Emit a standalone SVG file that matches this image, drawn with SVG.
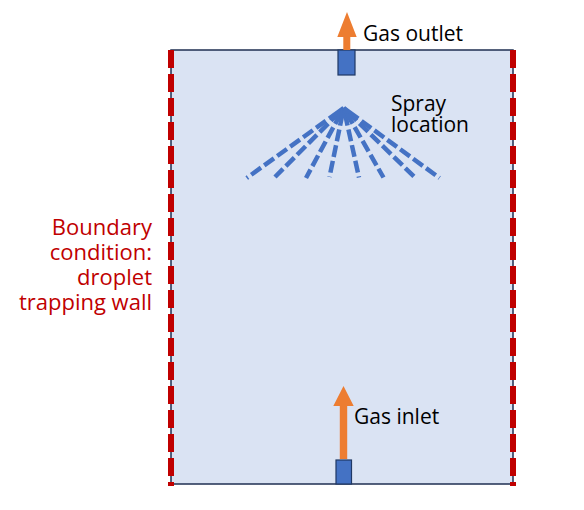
<svg xmlns="http://www.w3.org/2000/svg" width="584" height="510" viewBox="0 0 584 510">
  <style>
    .lbl { font-family: "Open Sans", "Noto Sans", "Liberation Sans", sans-serif; font-size: 21px; fill: #000000; }
    .red { font-family: "Open Sans", "Noto Sans", "Liberation Sans", sans-serif; font-size: 22px; fill: #c00000; text-anchor: end; }
    .wall { stroke: #c00000; stroke-width: 6; stroke-dasharray: 18 6; fill: none; }
    .port { fill: #4472c4; stroke: #1f3864; stroke-width: 1.2; }
    .spray line { stroke: #4472c4; stroke-width: 4.5; stroke-dasharray: 18 4 12 4 12 4 12 4 12 4 12 4 12 4 12 4 12 4 12 4; }
    .arrow { fill: #ed7d31; }
  </style>
  <rect width="584" height="510" fill="#ffffff"/>
  <g id="chamber">
    <rect x="171" y="50" width="342" height="434" fill="#dae3f3" stroke="#1f2f52" stroke-width="1.5"/>
  </g>
  <g id="walls">
    <line class="wall" x1="171" y1="50" x2="171" y2="486"/>
    <line class="wall" x1="513" y1="50" x2="513" y2="486"/>
  </g>
  <g id="outlet">
    <rect class="port" x="338" y="50" width="17" height="25"/>
  </g>
  <g id="inlet">
    <rect class="port" x="336" y="460" width="15.5" height="24"/>
  </g>
  <g id="spray" class="spray">
    <line x1="343.7" y1="108" x2="246.7" y2="178"/>
    <line x1="343.7" y1="108" x2="275" y2="177"/>
    <line x1="343.7" y1="108" x2="306" y2="178"/>
    <line x1="343.7" y1="108" x2="329.5" y2="177"/>
    <line x1="343.7" y1="108" x2="359" y2="177.5"/>
    <line x1="343.7" y1="108" x2="383.5" y2="177.5"/>
    <line x1="343.7" y1="108" x2="414.5" y2="177"/>
    <line x1="343.7" y1="108" x2="439.5" y2="178"/>
  </g>
  <g id="connectors">
    <polygon class="arrow" points="343.3,50 343.3,37 337.3,37 347,12 356.7,37 350.3,37 350.3,50"/>
    <polygon class="arrow" points="339.8,459 339.8,406 333.3,406 343.5,386 353.7,406 347.2,406 347.2,459"/>
  </g>
  <g id="labels">
    <text class="lbl" x="363" y="41">Gas outlet</text>
    <text class="lbl" x="391" y="111">Spray</text>
    <text class="lbl" x="391" y="132">location</text>
    <text class="lbl" x="354" y="424">Gas inlet</text>
    <text class="red" x="152" y="235">Boundary</text>
    <text class="red" x="152" y="260">condition:</text>
    <text class="red" x="152" y="285">droplet</text>
    <text class="red" x="152" y="310">trapping wall</text>
  </g>
</svg>
